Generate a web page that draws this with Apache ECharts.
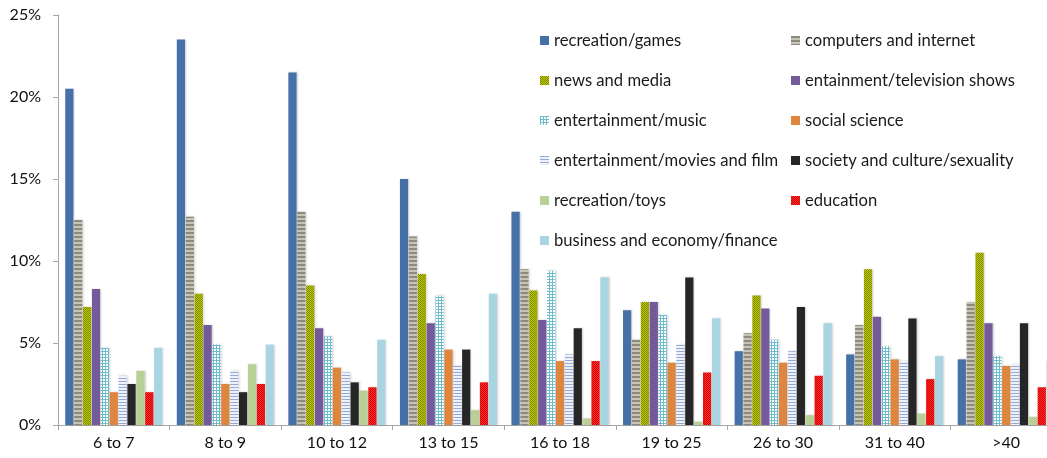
<!DOCTYPE html>
<html>
<head>
<meta charset="utf-8">
<script src="https://cdn.jsdelivr.net/npm/echarts@6/dist/echarts.min.js"></script>
<style>
html,body{margin:0;padding:0;background:#fff;overflow:hidden;width:1047px;height:458px;}
#chart{width:1062px;height:458px;}
</style>
</head>
<body>
<div id="chart"></div>
<script>
const categories = ['6 to 7','8 to 9','10 to 12','13 to 15','16 to 18','19 to 25','26 to 30','31 to 40','>40'];
const yTicks = [0,5,10,15,20,25];

const recreationGames   = [20.5,23.5,21.5,15.0,13.0,7.0,4.5,4.3,4.0];
const computersInternet = [12.5,12.7,13.0,11.5,9.5,5.2,5.6,6.1,7.5];
const newsMedia         = [7.2,8.0,8.5,9.2,8.2,7.5,7.9,9.5,10.5];
const entTelevision     = [8.3,6.1,5.9,6.2,6.4,7.5,7.1,6.6,6.2];
const entMusic          = [4.7,4.9,5.4,7.9,9.4,6.7,5.2,4.8,4.2];
const socialScience     = [2.0,2.5,3.5,4.6,3.9,3.8,3.8,4.0,3.6];
const entMovies         = [3.0,3.3,3.2,3.6,4.3,4.9,4.5,3.9,3.7];
const societyCulture    = [2.5,2.0,2.6,4.6,5.9,9.0,7.2,6.5,6.2];
const recreationToys    = [3.3,3.7,2.1,0.9,0.4,0.2,0.6,0.7,0.5];
const education         = [2.0,2.5,2.3,2.6,3.9,3.2,3.0,2.8,2.3];
const businessFinance   = [4.7,4.9,5.2,8.0,9.0,6.5,6.2,4.2,3.9];

function pattern(w, h, draw) {
  const c = document.createElement('canvas');
  c.width = w; c.height = h;
  const ctx = c.getContext('2d');
  draw(ctx);
  return {image: c, repeat: 'repeat'};
}
const pComputers = pattern(4, 4, ctx => {
  ctx.fillStyle = '#c7c3b6'; ctx.fillRect(0,0,4,4);
  ctx.fillStyle = '#8d897b'; ctx.fillRect(0,0,4,2);
});
const pNews = pattern(2, 2, ctx => {
  ctx.fillStyle = '#bcc800'; ctx.fillRect(0,0,2,2);
  ctx.fillStyle = '#7f8a00'; ctx.fillRect(0,0,1,1); ctx.fillRect(1,1,1,1);
});
const pMusic = pattern(3, 3, ctx => {
  ctx.fillStyle = '#ffffff'; ctx.fillRect(0,0,3,3);
  ctx.fillStyle = '#6dbccd'; ctx.fillRect(0,0,3,1); ctx.fillRect(0,0,1,3);
});
const pMovies = pattern(3, 3, ctx => {
  ctx.fillStyle = '#eef1f9'; ctx.fillRect(0,0,3,3);
  ctx.fillStyle = '#93a9d6'; ctx.fillRect(0,0,3,1);
});
const pEducation = pattern(2, 2, ctx => {
  ctx.fillStyle = '#ff2a2a'; ctx.fillRect(0,0,2,2);
  ctx.fillStyle = '#d40000'; ctx.fillRect(0,0,1,1); ctx.fillRect(1,1,1,1);
});

const seriesDefs = [
  ['recreation/games', recreationGames, '#4671a8'],
  ['computers and internet', computersInternet, pComputers],
  ['news and media', newsMedia, pNews],
  ['entainment/television shows', entTelevision, '#735a9a'],
  ['entertainment/music', entMusic, pMusic],
  ['social science', socialScience, '#df863e'],
  ['entertainment/movies and film', entMovies, pMovies],
  ['society and culture/sexuality', societyCulture, '#262626'],
  ['recreation/toys', recreationToys, '#b8cf95'],
  ['education', education, pEducation],
  ['business and economy/finance', businessFinance, '#a9d5e3']
];

const series = seriesDefs.map(([name, data, color]) => ({
  name, type: 'bar', data,
  barGap: '8%', barCategoryGap: '13%',
  itemStyle: {color, shadowColor: 'rgba(0,0,0,0.18)', shadowBlur: 2, shadowOffsetX: 1},
  emphasis: {disabled: true}
}));

const legendCommon = {
  orient: 'vertical', itemWidth: 9, itemHeight: 9, itemGap: 23, icon: 'rect',
  textStyle: {fontFamily: 'Lato', fontSize: 16.6, color: '#1a1a1a'},
  selectedMode: false
};

const chart = echarts.init(document.getElementById('chart'), null, {renderer: 'canvas'});
chart.setOption({
  animation: false,
  grid: {left: 58, top: 15, bottom: 33, right: 0, containLabel: false},
  legend: [
    Object.assign({}, legendCommon, {left: 535, top: 27,
      data: ['recreation/games','news and media','entertainment/music','entertainment/movies and film','recreation/toys','business and economy/finance']}),
    Object.assign({}, legendCommon, {left: 786, top: 27,
      data: ['computers and internet','entainment/television shows','social science','society and culture/sexuality','education']})
  ],
  xAxis: {
    type: 'category', data: categories,
    axisLine: {lineStyle: {color: '#a6a6a6'}},
    axisTick: {show: true, length: 5, lineStyle: {color: '#a6a6a6'}},
    axisLabel: {fontFamily: 'Lato', fontSize: 16, color: '#111', margin: 10}
  },
  yAxis: {
    type: 'value', min: 0, max: 25, interval: 5,
    axisLine: {show: true, lineStyle: {color: '#a6a6a6'}},
    axisTick: {show: true, length: 5, lineStyle: {color: '#a6a6a6'}},
    splitLine: {show: false},
    axisLabel: {fontFamily: 'Lato', fontSize: 16, color: '#111', margin: 17,
      formatter: v => yTicks.includes(v) ? v + '%' : ''}
  },
  series
});
</script>
</body>
</html>
